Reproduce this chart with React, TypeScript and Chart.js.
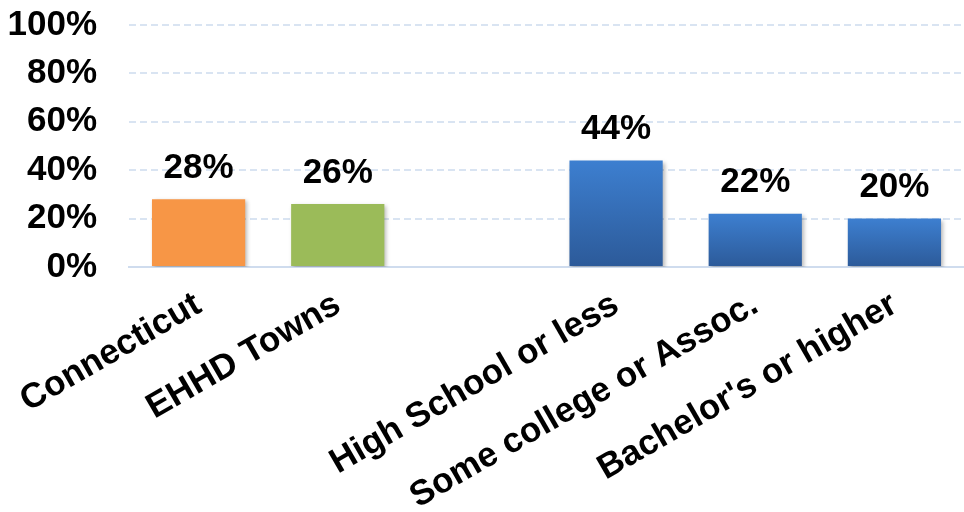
import React, { useEffect, useRef } from "react";
import { Chart, registerables } from "chart.js";

Chart.register(...registerables);

const categories = ["Connecticut", "EHHD Towns", "", "High School or less", "Some college or Assoc.", "Bachelor's or higher"];
const values: (number | null)[] = [28, 26, null, 44, 22, 20];
const yTicks = [0, 20, 40, 60, 80, 100];
const solidColors = ["#f79646", "#9bbb59", null, null, null, null];
const blueTop = "#3d7fd0";
const blueBottom = "#2c5a99";

const FONT = "'Liberation Sans', Arial, sans-serif";

const shadowPlugin = {
  id: "barShadow",
  beforeDatasetsDraw(chart: any) {
    const ctx = chart.ctx;
    ctx.save();
    ctx.shadowColor = "rgba(0,0,0,0.28)";
    ctx.shadowBlur = 4;
    ctx.shadowOffsetX = 2;
    ctx.shadowOffsetY = 2;
  },
  afterDatasetsDraw(chart: any) {
    chart.ctx.restore();
  },
};

const labelPlugin = {
  id: "valueLabels",
  afterDraw(chart: any) {
    const ctx = chart.ctx;
    const meta = chart.getDatasetMeta(0);
    ctx.save();
    ctx.font = `bold 35px ${FONT}`;
    ctx.fillStyle = "#000";
    ctx.textAlign = "center";
    ctx.textBaseline = "middle";
    meta.data.forEach((bar: any, i: number) => {
      const v = values[i];
      if (v == null) return;
      ctx.fillText(`${v}%`, bar.x, bar.y - 31);
    });
    ctx.restore();
  },
};

export default function App() {
  const ref = useRef<HTMLCanvasElement>(null);
  useEffect(() => {
    const chart = new Chart(ref.current!, {
      type: "bar",
      data: {
        labels: categories,
        datasets: [
          {
            data: values,
            backgroundColor: (c: any) => {
              const i = c.dataIndex;
              if (solidColors[i]) return solidColors[i];
              const ch = c.chart;
              if (!ch.chartArea || c.raw == null) return blueTop;
              const y = ch.scales.y;
              const top = y.getPixelForValue(c.raw);
              const bottom = y.getPixelForValue(0);
              const g = ch.ctx.createLinearGradient(0, top, 0, bottom);
              g.addColorStop(0, blueTop);
              g.addColorStop(1, blueBottom);
              return g;
            },
            borderWidth: 0,
            barPercentage: 0.67,
            categoryPercentage: 1,
          },
        ],
      },
      options: {
        animation: false,
        responsive: true,
        maintainAspectRatio: false,
        layout: { padding: { top: 25, right: 0, left: 0, bottom: 0 } },
        plugins: { legend: { display: false }, tooltip: { enabled: false } },
        scales: {
          x: {
            grid: { display: false, drawTicks: false },
            border: { display: true, color: "#cfdcee", width: 2 },
            ticks: {
              autoSkip: false,
              minRotation: 30,
              maxRotation: 30,
              padding: 17,
              color: "#000",
              font: { family: FONT, size: 35, weight: "bold" },
            },
            afterFit: (s: any) => {
              s.height = 245;
              s.paddingLeft = 0;
              s.paddingRight = 0;
            },
          },
          y: {
            min: 0,
            max: 100,
            afterBuildTicks: (s: any) => {
              s.ticks = yTicks.map((v) => ({ value: v }));
            },
            grid: {
              color: "#d9e4f2",
              lineWidth: 2,
              drawTicks: true,
              tickLength: 32,
              tickColor: "rgba(0,0,0,0)",
            },
            border: { display: false, dash: [7, 4] },
            ticks: {
              autoSkip: false,
              padding: 0,
              color: "#000",
              font: { family: FONT, size: 35, weight: "bold", lineHeight: 1 },
              callback: (v: any) => `${v}%`,
            },
            afterFit: (s: any) => {
              s.width = 129;
            },
          },
        },
      },
      plugins: [shadowPlugin, labelPlugin],
    });
    return () => chart.destroy();
  }, []);
  return (
    <div style={{ position: "fixed", left: 0, top: 0, width: 964, height: 512, background: "#fff" }}>
      <canvas ref={ref} />
    </div>
  );
}
